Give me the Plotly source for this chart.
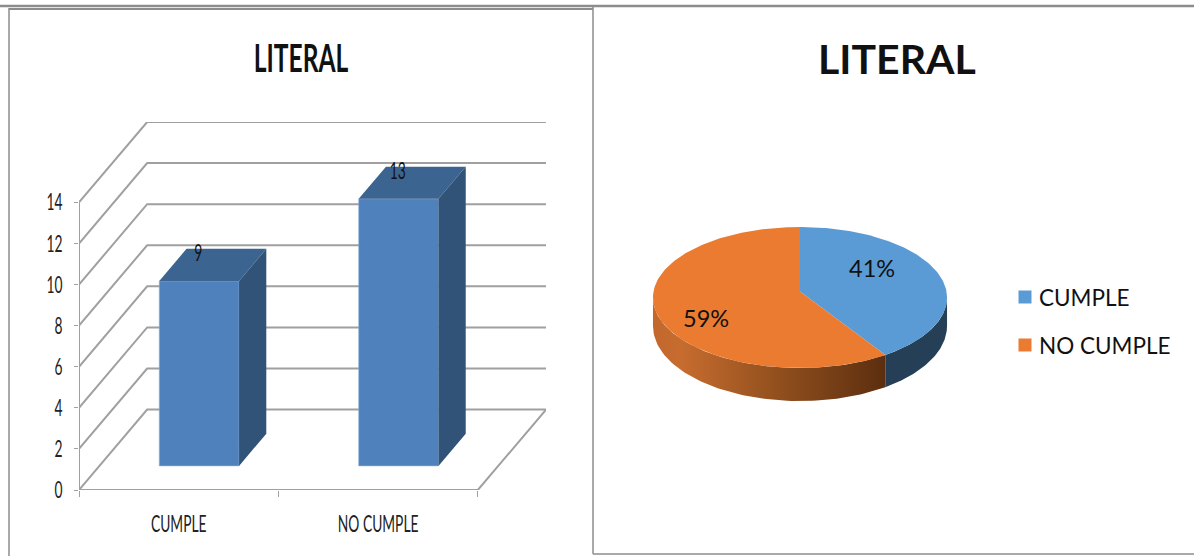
import numpy as np
import plotly.graph_objects as go

# ---- data ----
categories = ["CUMPLE", "NO CUMPLE"]
values = [9, 13]
y_ticks = [0, 2, 4, 6, 8, 10, 12, 14]
title_text = "LITERAL"

# ---- styles ----
CAL = "Lato"
GRID = "#a0a0a0"
BAR_FRONT, BAR_TOP, BAR_SIDE = "#4f81bd", "#3c6491", "#325378"
PIE_BLUE, PIE_ORANGE, PIE_BLUE_SIDE = "#5b9bd5", "#ea7b30", "#243f56"
W, H = 1194, 556

# oblique projection of the 3-D wall, in axis units
DX = 68 / 199.0     # depth shift in category units
DY = 80.5 / 20.57   # depth shift in value units
D0, D1 = 0.30, 0.70 # bar depth range
BW = 0.40           # bar width

fig = go.Figure()

# ---- left chart: walls and floor ----
gx, gy = [], []
for t in y_ticks:
    gx += [0, DX, 2 + DX, None]
    gy += [t, t + DY, t + DY, None]
gx += [0, 2, 2 + DX, None, 0, 0]
gy += [0, 0, DY, None, 0, y_ticks[-1]]
fig.add_trace(go.Scatter(x=gx, y=gy, mode="lines", line=dict(color=GRID, width=2),
                         xaxis="x", yaxis="y", hoverinfo="skip", showlegend=False))

# ---- left chart: bars on an overlaid pair of axes ----
cx = [i + 0.5 for i in range(len(values))]
fig.add_trace(go.Bar(x=[c + D0 * DX for c in cx], y=values, base=[D0 * DY] * len(values),
                     width=BW, marker=dict(color=BAR_FRONT, line=dict(color="#8fb0d8", width=0.6)),
                     xaxis="x3", yaxis="y3", showlegend=False))
for c, v in zip(cx, values):
    l, r = c - BW / 2, c + BW / 2
    fig.add_trace(go.Scatter(
        x=[l + D0 * DX, r + D0 * DX, r + D1 * DX, l + D1 * DX, l + D0 * DX],
        y=[v + D0 * DY, v + D0 * DY, v + D1 * DY, v + D1 * DY, v + D0 * DY],
        fill="toself", fillcolor=BAR_TOP, mode="lines", line=dict(width=0),
        xaxis="x3", yaxis="y3", hoverinfo="skip", showlegend=False))
    fig.add_trace(go.Scatter(
        x=[r + D0 * DX, r + D1 * DX, r + D1 * DX, r + D0 * DX, r + D0 * DX],
        y=[D0 * DY, D1 * DY, v + D1 * DY, v + D0 * DY, D0 * DY],
        fill="toself", fillcolor=BAR_SIDE, mode="lines", line=dict(width=0),
        xaxis="x3", yaxis="y3", hoverinfo="skip", showlegend=False))
fig.add_trace(go.Scatter(x=[c + D0 * DX - 0.004 for c in cx], y=[v + 0.615 * DY for v in values],
                         mode="text", text=[str(v) for v in values],
                         textfont=dict(family=CAL, size=23, color="#111"),
                         xaxis="x3", yaxis="y3", hoverinfo="skip", showlegend=False))

# ---- right chart: perspective pie, pixel-scaled axes ----
PCX, PCY = 800.0, 297.5
A, B, K, C = 146.5, 70.0, 0.0851, 6.0

def rim(theta_deg, r=1.0):
    t = np.radians(theta_deg)
    u, v = r * np.sin(t), r * np.cos(t)
    s = 1 + K * v
    return PCX + A * u / s, PCY - (B * v / s + C)

def side(t0, t1, **kw):
    th = np.linspace(t0, t1, 80)
    x, y = rim(th)
    h = 28 - 5 * np.cos(np.radians(th))
    return go.Scatter(x=np.r_[x, x[::-1], x[0]], y=np.r_[y, (y + h)[::-1], y[0]],
                      fill="toself", mode="lines", line=dict(width=0),
                      xaxis="x2", yaxis="y2", hoverinfo="skip", showlegend=False, **kw)

def wedge(t0, t1, color):
    th = np.linspace(t0, t1, 160)
    x, y = rim(th)
    vx, vy = rim(0.0, 0.0)
    return go.Scatter(x=np.r_[vx, x, vx], y=np.r_[vy, y, vy], fill="toself", fillcolor=color,
                      mode="lines", line=dict(width=0), xaxis="x2", yaxis="y2",
                      hoverinfo="skip", showlegend=False)

total = sum(values)
split = 360.0 * values[0] / total
fig.add_trace(side(94.9, split, fillcolor=PIE_BLUE_SIDE))
fig.add_trace(side(split, 265.1, fillgradient=dict(
    type="horizontal",
    colorscale=[[0, "#c2682c"], [0.12, "#c76c2f"], [0.5, "#96521f"], [1, "#5c2e0f"]])))
fig.add_trace(wedge(0, split, PIE_BLUE))
fig.add_trace(wedge(split, 360, PIE_ORANGE))

# legend swatches
LEG_X, LEG_Y = 1025, [297, 345]
fig.add_trace(go.Scatter(x=[LEG_X] * 2, y=LEG_Y, mode="markers",
                         marker=dict(symbol="square", size=13, color=[PIE_BLUE, PIE_ORANGE]),
                         xaxis="x2", yaxis="y2", hoverinfo="skip", showlegend=False))
annotations = []
for name, yy in zip(categories, LEG_Y):
    annotations.append(dict(x=1037, y=yy, xref="x2", yref="y2", text=name, showarrow=False,
                            xanchor="left", yanchor="middle",
                            font=dict(family=CAL, size=22.5, color="#111")))
for v, (px, py) in zip(values, [(872, 268), (706, 318)]):
    annotations.append(dict(x=px, y=py, xref="x2", yref="y2", text=f"{round(100 * v / total)}%",
                            showarrow=False, font=dict(family=CAL, size=23.5, color="#111")))
annotations.append(dict(x=301, y=57, xref="x2", yref="y2", text=title_text, showarrow=False,
                        font=dict(family=CAL, size=39, color="#111", weight=700)))
annotations.append(dict(x=897, y=58, xref="x2", yref="y2", text=title_text, showarrow=False,
                        font=dict(family=CAL, size=41, color="#111", weight=700)))

# panel frame lines
frame = "#8c8c8c"
shapes = []
for x0, y0, x1, y1, w in [(0, 6, W, 6, 2.5), (9, 9, 593, 9, 2), (9, 8, 9, H, 1.5),
                          (593, 6, 593, 554, 1.5), (593, 554, W, 554, 1.5)]:
    shapes.append(dict(type="line", xref="paper", yref="paper", x0=x0 / W, x1=x1 / W,
                       y0=1 - y0 / H, y1=1 - y1 / H, line=dict(color=frame, width=w)))

xr = [0, 2 + DX]
yr = [0, y_ticks[-1] + DY]
dom_x = [79 / W, 546 / W]
dom_y = [(H - 490) / H, (H - 122) / H]
fig.update_layout(
    template="none",
    width=W, height=H, margin=dict(l=0, r=0, t=0, b=0, pad=0), autosize=False,
    paper_bgcolor="white", plot_bgcolor="rgba(0,0,0,0)", showlegend=False,
    annotations=annotations, shapes=shapes,
    xaxis=dict(domain=dom_x, range=xr, tickmode="array", tickvals=cx, ticktext=categories,
               ticks="", showgrid=False, zeroline=False, showline=False, ticklabelstandoff=18,
               automargin=False, tickfont=dict(family=CAL, size=23, color="#222"),
               minor=dict(tickmode="array", tickvals=[0, 1, 2], ticks="outside", ticklen=6,
                          tickcolor=GRID, tickwidth=1.4, showgrid=False)),
    yaxis=dict(domain=dom_y, range=yr, tickmode="array", tickvals=y_ticks, ticks="outside", ticklen=4,
               tickcolor=GRID, showgrid=False, zeroline=False, showline=False, automargin=False,
               ticklabelstandoff=7, tickfont=dict(family=CAL, size=23, color="#222")),
    xaxis3=dict(overlaying="x", range=xr, visible=False),
    yaxis3=dict(overlaying="y", range=yr, visible=False),
    xaxis2=dict(domain=[0, 1], range=[0, W], visible=False),
    yaxis2=dict(domain=[0, 1], range=[H, 0], visible=False),
)

# The left chart's lettering is horizontally compressed in the reference.
squeeze = """
document.body.style.margin='0';
function sq(el,f){var w=el.getComputedTextLength();el.setAttribute('textLength',w*f);el.setAttribute('lengthAdjust','spacingAndGlyphs');}
document.querySelectorAll('.xtick text,.ytick text,.textpoint text').forEach(function(e){sq(e,0.60);});
document.querySelectorAll('.annotation-text').forEach(function(e){if(e.getBoundingClientRect().left<593){sq(e,0.63);}});
"""
fig.write_html("out.html", post_script=squeeze, config={"displayModeBar": False})
